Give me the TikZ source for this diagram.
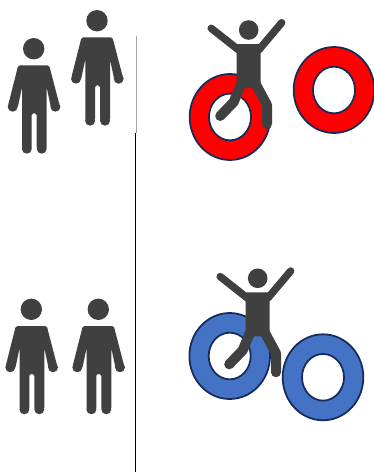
\documentclass[tikz,border=0pt]{standalone}
\usetikzlibrary{shapes.geometric}
\definecolor{figdark}{HTML}{404040}
\definecolor{ringedge}{HTML}{15295A}
\definecolor{ringblue}{HTML}{4472C4}
\tikzset{
    limb/.style={figdark, line cap=round, line join=round},
    standing/.pic={
        \fill[figdark] (0,0) circle (10.7);
        \fill[figdark, rounded corners=1.2] (-15.5,16.7) -- (15.5,16.7) -- (26,57) -- (17.3,59) -- (13,38.7) -- (13,100) -- (3,100) -- (3,64.7) -- (-2,64.7) -- (-2,100) -- (-11.7,100) -- (-11.7,38.7) -- (-16,59) -- (-25.7,57) -- cycle;
        \fill[figdark] (-21,58) circle (5);
        \fill[figdark] (21.7,58) circle (5);
        \fill[figdark] (-6.9,100) circle (5);
        \fill[figdark] (8,100) circle (5);
    },
    jumper/.pic={
        \fill[figdark] (0,0) circle (9.8);
        \fill[figdark, rounded corners=1] (-12,14) -- (12,14) -- (12,58) -- (-12,58) -- cycle;
        \draw[limb, line width=5.6pt] (-10,20) -- (-37.5,-1.7);
        \draw[limb, line width=5.6pt] (10,20) -- (33,-7.3);
        \draw[limb, line width=7.5pt] (-8,55) -- (-15,72) -- (-28.5,86);
        \draw[limb, line width=7.5pt] (7.5,55) -- (18.3,75) -- (18.3,94);
    }
}
\begin{document}
\begin{tikzpicture}[x=0.75pt,y=-0.75pt,
    ring/.style={draw=ringedge, ellipse, line width=1.3pt, inner sep=0pt, outer sep=0pt, minimum width=60.5pt, minimum height=64.5pt},
    hole/.style={draw=ringedge, ellipse, fill=white, line width=1.3pt, inner sep=0pt, outer sep=0pt, minimum width=31.5pt, minimum height=35pt}]
    \useasboundingbox (0,0) rectangle (374,472);
    % divider
    \coordinate (topa) at (136,36);
    \coordinate (topb) at (136,133);
    \coordinate (lowa) at (135.5,133);
    \coordinate (lowb) at (135.5,472);
    \draw[gray!70, line width=0.6pt] (topa) -- (topb);
    \draw[black, line width=0.8pt] (lowa) -- (lowb);
    % people on the left
    \pic at (33.7,48.7) {standing};
    \pic at (97,20.7) {standing};
    \pic at (31.3,309.3) {standing};
    \pic at (98.3,309.3) {standing};
    % red rings
    \node[ring, fill=red] (redl) at (230,117) {};
    \node[hole] (redlh) at (redl) {};
    \node[ring, fill=red] (redr) at (334,90) {};
    \node[hole] (redrh) at (redr) {};
    \pic at (248.7,30) {jumper};
    % blue rings
    \node[ring, fill=ringblue] (bluel) at (229.7,356) {};
    \node[hole] (bluelh) at (bluel) {};
    \node[ring, fill=ringblue] (bluer) at (323,377.3) {};
    \node[hole] (bluerh) at (bluer) {};
    \pic at (257.7,278.3) {jumper};
\end{tikzpicture}
\end{document}
